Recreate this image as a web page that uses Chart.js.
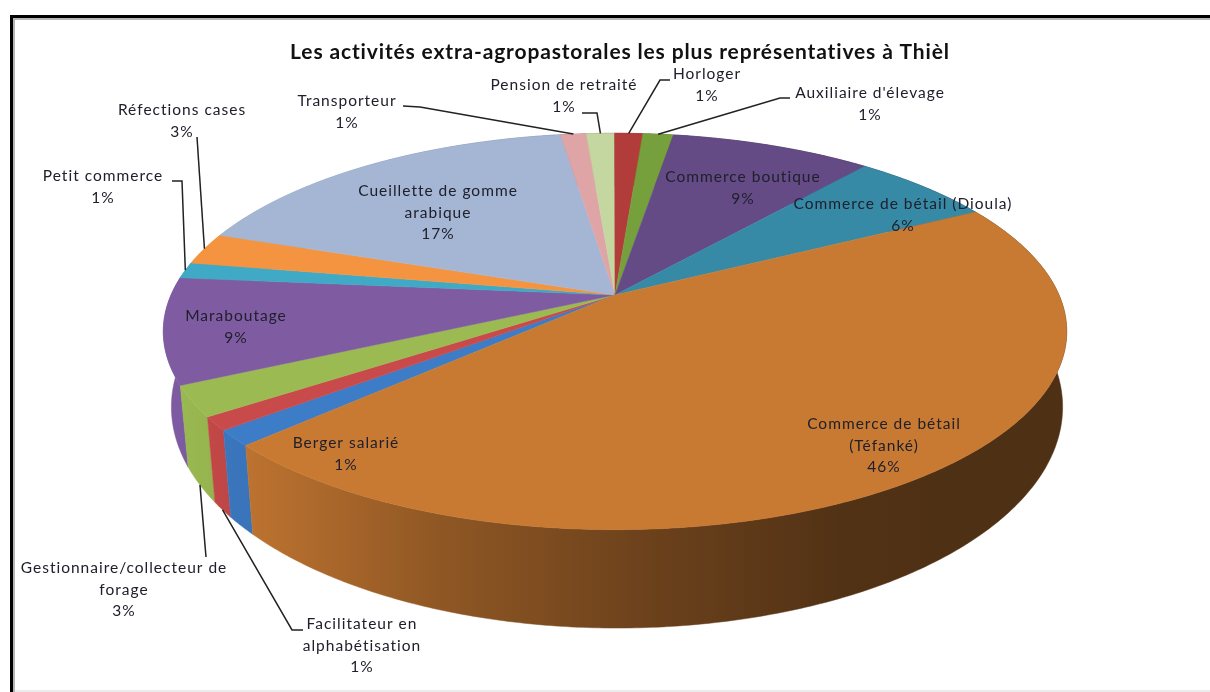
<!DOCTYPE html>
<html lang="fr">
<head>
<meta charset="utf-8">
<title>Activités extra-agropastorales</title>
<script src="https://cdn.jsdelivr.net/npm/chart.js@4/dist/chart.umd.min.js"></script>
<style>
    html, body { margin: 0; padding: 0; background: #fff; overflow: hidden; }
    #wrap { position: absolute; left: 0; top: 0; width: 1210px; height: 692px; }
</style>
</head>
<body>
<div id="wrap"><canvas id="pieChart" width="1210" height="692"></canvas></div>
<script>
// index.html
// Tilted 3D pie: the library computes the slice angles, a plugin paints them in perspective.

const titleText = "Les activités extra-agropastorales les plus représentatives à Thièl";

const categories = [
    ['Berger salarié'],
    ['Facilitateur en', 'alphabétisation'],
    ['Gestionnaire/collecteur de', 'forage'],
    ['Maraboutage'],
    ['Petit commerce'],
    ['Réfections cases'],
    ['Cueillette de gomme', 'arabique'],
    ['Transporteur'],
    ['Pension de retraité'],
    ['Horloger'],
    ["Auxiliaire d'élevage"],
    ['Commerce boutique'],
    ['Commerce de bétail (Dioula)'],
    ['Commerce de bétail', '(Téfanké)']
];

const values = [1.3, 1.1, 2.5, 8.6, 1.3, 2.6, 17.3, 1.1, 1.2, 1.2, 1.3, 8.6, 6.1, 45.7];

const sliceColors = [
    '#3d7cc6', '#c94a4a', '#9bbb52', '#7f5ca2', '#3fa9c6', '#f49440', '#a4b6d4',
    '#dfa5a6', '#c4d7a0', '#b23c3a', '#76a03c', '#644b86', '#368aa6', '#c87a33'
];

// label centre x, first line y, then optional leader knee points
const labelLayout = [
    { x: 346, y: 443 },
    { x: 362, y: 624, rim: 'low', leader: [[292, 630], [303, 630]] },
    { x: 124, y: 568, rim: 'low', leader: [[206, 557]] },
    { x: 236, y: 316 },
    { x: 103, y: 176, leader: [[182, 181], [172, 181]] },
    { x: 182, y: 110, leader: [[197, 137]] },
    { x: 438, y: 191 },
    { x: 347, y: 101, leader: [[420, 107], [403, 106]] },
    { x: 564, y: 85, leader: [[597, 113], [582, 113]] },
    { x: 707, y: 74, leader: [[660, 80], [670, 80]] },
    { x: 870, y: 93, leader: [[780, 98], [790, 98]] },
    { x: 743, y: 177 },
    { x: 903, y: 204 },
    { x: 884, y: 424 }
];

// perspective of the disc: apex, radii, and how much the near edge grows
const CX = 615, CY = 295, RX = 444, RY = 191.5, PERSP = 0.184;
const LOW_CX = 617, LOW_CY = 366.4, LOW_RX = 438, LOW_RY = 213.5;

const shadeStops = [[160, 1], [260, 0.93], [440, 0.715], [640, 0.545], [840, 0.41], [950, 0.39], [1070, 0.39]];

function topPoint(angle) {
    const u = Math.cos(angle), v = Math.sin(angle), w = 1 - PERSP * v;
    return [CX + RX * u / w, CY + RY * v / w];
}

function lowPoint(angle) {
    const u = Math.cos(angle), v = Math.sin(angle), w = 1 - PERSP * v;
    return [LOW_CX + LOW_RX * u / w, LOW_CY + LOW_RY * v / w];
}

function darken(hex, f) {
    const n = parseInt(hex.slice(1), 16);
    const r = Math.round((n >> 16) * f), g = Math.round(((n >> 8) & 255) * f), b = Math.round((n & 255) * f);
    return `rgb(${r},${g},${b})`;
}

function wallGradient(ctx, color) {
    const first = shadeStops[0][0], last = shadeStops[shadeStops.length - 1][0];
    const grad = ctx.createLinearGradient(first, 0, last, 0);
    shadeStops.forEach(stop => {
        grad.addColorStop((stop[0] - first) / (last - first), darken(color, stop[1]));
    });
    return grad;
}

function drawWalls(ctx, arcs) {
    const order = arcs.map((arc, i) => i);
    order.sort((p, q) => Math.sin((arcs[p].startAngle + arcs[p].endAngle) / 2) - Math.sin((arcs[q].startAngle + arcs[q].endAngle) / 2));
    order.forEach(i => {
        const arc = arcs[i];
        const steps = Math.max(6, Math.ceil((arc.endAngle - arc.startAngle) / 0.01));
        ctx.beginPath();
        for (let s = 0; s <= steps; s++) {
            const p = topPoint(arc.startAngle + (arc.endAngle - arc.startAngle) * s / steps);
            if (s === 0) ctx.moveTo(p[0], p[1]);
            else ctx.lineTo(p[0], p[1]);
        }
        for (let s = steps; s >= 0; s--) {
            const p = lowPoint(arc.startAngle + (arc.endAngle - arc.startAngle) * s / steps);
            ctx.lineTo(p[0], p[1]);
        }
        ctx.closePath();
        const grad = wallGradient(ctx, sliceColors[i]);
        ctx.fillStyle = grad;
        ctx.strokeStyle = grad;
        ctx.lineWidth = 0.5;
        ctx.fill();
        ctx.stroke();
    });
}

function drawTop(ctx, arcs) {
    arcs.forEach((arc, i) => {
        ctx.beginPath();
        ctx.moveTo(CX, CY);
        const steps = Math.max(6, Math.ceil((arc.endAngle - arc.startAngle) / 0.01));
        for (let s = 0; s <= steps; s++) {
            const p = topPoint(arc.startAngle + (arc.endAngle - arc.startAngle) * s / steps);
            ctx.lineTo(p[0], p[1]);
        }
        ctx.closePath();
        ctx.fillStyle = sliceColors[i];
        ctx.strokeStyle = sliceColors[i];
        ctx.lineWidth = 0.5;
        ctx.fill();
        ctx.stroke();
    });
}

function drawLeaders(ctx, arcs) {
    ctx.strokeStyle = '#222';
    ctx.lineWidth = 1.5;
    arcs.forEach((arc, i) => {
        const layout = labelLayout[i];
        if (!layout.leader) return;
        const mid = (arc.startAngle + arc.endAngle) / 2;
        const start = layout.rim === 'low' ? lowPoint(mid) : topPoint(mid);
        ctx.beginPath();
        ctx.moveTo(start[0], start[1]);
        layout.leader.forEach(p => ctx.lineTo(p[0], p[1]));
        ctx.stroke();
    });
}

function drawLabels(ctx) {
    ctx.font = '15.5px Lato';
    ctx.letterSpacing = '1px';
    ctx.textAlign = 'center';
    ctx.textBaseline = 'middle';
    ctx.fillStyle = '#20202c';
    categories.forEach((lines, i) => {
        const layout = labelLayout[i];
        const allLines = lines.concat(`${Math.round(values[i])}%`);
        allLines.forEach((text, n) => {
            ctx.fillText(text, layout.x, layout.y + n * 21.5);
        });
    });
    ctx.letterSpacing = '0px';
}

const pie3dPlugin = {
    id: 'pie3d',
    beforeDraw(chart) {
        const ctx = chart.ctx;
        // picture frame
        ctx.save();
        ctx.fillStyle = '#ececec';
        ctx.fillRect(13, 690, 1197, 2);
        ctx.fillStyle = '#b5b5b5';
        ctx.fillRect(13, 18, 1197, 2);
        ctx.fillRect(13, 18, 2, 674);
        ctx.fillStyle = '#000';
        ctx.fillRect(10, 15, 1200, 3);
        ctx.fillRect(10, 15, 3, 677);
        ctx.restore();
        ctx.letterSpacing = '0.85px';
    },
    beforeDatasetsDraw(chart) {
        const ctx = chart.ctx;
        const arcs = chart.getDatasetMeta(0).data;
        ctx.save();
        drawWalls(ctx, arcs);
        drawTop(ctx, arcs);
        drawLeaders(ctx, arcs);
        drawLabels(ctx);
        ctx.restore();
        return false;
    }
};

window.addEventListener('DOMContentLoaded', () => {
    new Chart(document.getElementById('pieChart').getContext('2d'), {
        type: 'pie',
        data: {
            labels: categories.map(lines => lines.join(' ')),
            datasets: [{
                data: values,
                backgroundColor: sliceColors,
                borderWidth: 0
            }]
        },
        options: {
            responsive: false,
            animation: false,
            rotation: 226.6,
            layout: { padding: { left: 30 } },
            plugins: {
                legend: { display: false },
                tooltip: { enabled: false },
                title: {
                    display: true,
                    text: titleText,
                    fullSize: false,
                    color: '#111',
                    font: { family: 'Lato', size: 21, weight: 'bold' },
                    padding: { top: 40, bottom: 10 }
                }
            }
        },
        plugins: [pie3dPlugin]
    });
});
</script>
</body>
</html>
